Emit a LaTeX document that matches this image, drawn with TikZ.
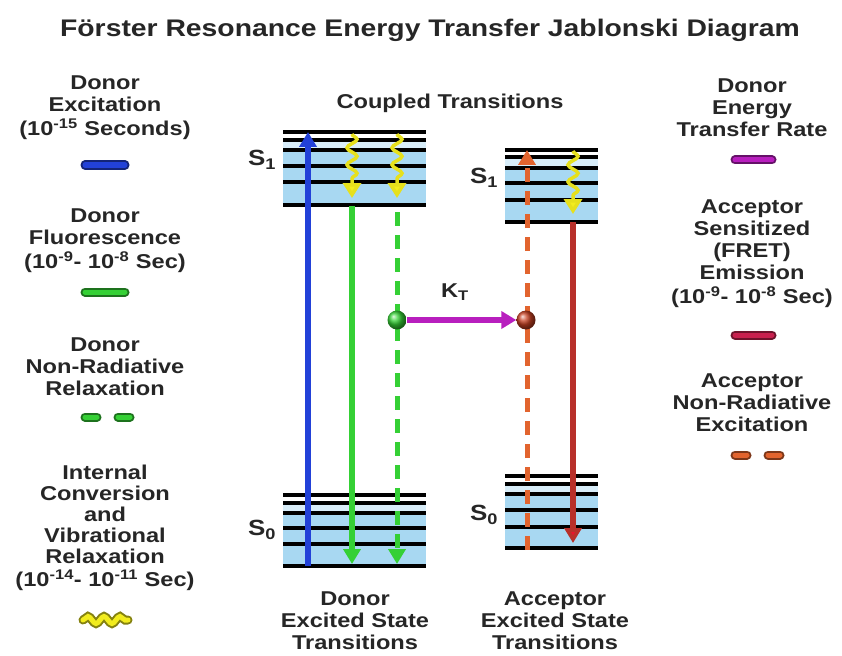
\documentclass[tikz,border=0pt]{standalone}
\usepackage{fontspec}
\setmainfont{Liberation Sans}[FakeStretch=1.18]
\usetikzlibrary{arrows.meta,decorations.pathmorphing}
\definecolor{txt}{HTML}{262626}
\definecolor{lvlblue}{HTML}{A8D8F2}
\definecolor{dblue}{HTML}{2241D8}
\definecolor{dgreen}{HTML}{35D035}
\definecolor{wavy}{HTML}{F2EC1E}
\definecolor{xfer}{HTML}{B81FBE}
\definecolor{aemit}{HTML}{B8302A}
\definecolor{ahead}{HTML}{E8142C}
\definecolor{anr}{HTML}{E2642E}
\definecolor{fretpill}{HTML}{C8204E}
\tikzset{
  lbl/.style={align=center, text=txt, font=\bfseries\fontsize{20}{22}\selectfont},
  pill/.style={draw=#1!55!black, double=#1, double distance=5pt, line width=2pt, line cap=round},
  level/.style={line width=4pt, black},
  arr/.style={line width=6pt, draw=#1, -{Triangle[width=17pt,length=15pt,fill=#1]}},
  dasharr/.style={line width=5pt, draw=#1, dash pattern=on 14pt off 9pt, -{Triangle[width=17pt,length=15pt,fill=#1]}},
  wavearr/.style={line width=3.5pt, draw=wavy!95!black, decorate,
    decoration={snake, amplitude=5pt, segment length=17pt, post length=15pt},
    -{Triangle[width=18pt,length=15pt,fill=wavy]}},
  ball/.style={circle, inner sep=0pt, minimum size=19pt, ball color=#1}
}
\begin{document}
\begin{tikzpicture}[x=1pt,y=-1pt]
\useasboundingbox (0,0) rectangle (842,655);
\node[text=txt, font=\bfseries\fontsize{24}{28}\selectfont] (title) at (430,30) {Förster Resonance Energy Transfer Jablonski Diagram};

\node[lbl] (dexc) at (105,108) {Donor\\Excitation\\[2pt](10\textsuperscript{-15} Seconds)};
\draw[pill=dblue] (85,165) -- (125,165);
\node[lbl] (dflu) at (105,241) {Donor\\Fluorescence\\[2pt](10\textsuperscript{-9}- 10\textsuperscript{-8} Sec)};
\draw[pill=dgreen] (85,292) -- (125,292);
\node[lbl] (dnrr) at (105,367) {Donor\\Non-Radiative\\Relaxation};
\draw[pill=dgreen] (85,417) -- (97,417);
\draw[pill=dgreen] (118,417) -- (130,417);
\node[lbl, font=\bfseries\fontsize{20}{21}\selectfont] (icvr) at (105,528) {Internal\\Conversion\\and\\Vibrational\\Relaxation\\[2pt](10\textsuperscript{-14}- 10\textsuperscript{-11} Sec)};
\draw[pill=wavy, decorate, decoration={snake, amplitude=3.5pt, segment length=16pt}] (83,620) -- (128,620);

\node[lbl] (detr) at (752,108) {Donor\\Energy\\Transfer Rate};
\draw[pill=xfer] (735,160) -- (772,160);
\node[lbl] (asfe) at (752,254) {Acceptor\\Sensitized\\(FRET)\\Emission\\[2pt](10\textsuperscript{-9}- 10\textsuperscript{-8} Sec)};
\draw[pill=fretpill] (735,335) -- (772,335);
\node[lbl] (anre) at (752,403) {Acceptor\\Non-Radiative\\Excitation};
\draw[pill=anr] (735,455) -- (747,455);
\draw[pill=anr] (768,455) -- (780,455);

\node[lbl] (coupled) at (450,103) {Coupled Transitions};

\fill[lvlblue!45] (283,140) rectangle (426,150);
\fill[lvlblue] (283,150) rectangle (426,205);
\fill[lvlblue!45] (283,503) rectangle (426,513);
\fill[lvlblue] (283,513) rectangle (426,566);
\fill[lvlblue!45] (505,157) rectangle (598,168);
\fill[lvlblue] (505,168) rectangle (598,222);
\fill[lvlblue!45] (505,484) rectangle (598,494);
\fill[lvlblue] (505,494) rectangle (598,548);
\foreach \y in {132,140,150,166,182,205,495,503,513,528,544,566}
  \draw[level] (283,\y) -- (426,\y);
\foreach \y in {150,157,168,183,200,222,476,484,494,510,527,548}
  \draw[level] (505,\y) -- (598,\y);

\node[lbl, font=\bfseries\fontsize{22}{23}\selectfont] (ds1) at (262,160) {S\textsubscript{1}};
\node[lbl, font=\bfseries\fontsize{22}{23}\selectfont] (ds0) at (262,530) {S\textsubscript{0}};
\node[lbl, font=\bfseries\fontsize{22}{23}\selectfont] (as1) at (484,178) {S\textsubscript{1}};
\node[lbl, font=\bfseries\fontsize{22}{23}\selectfont] (as0) at (484,515) {S\textsubscript{0}};

\coordinate (dexbot) at (308,566);
\coordinate (dextop) at (308,132);
\coordinate (dw1top) at (352,134);
\coordinate (dw1bot) at (352,198);
\coordinate (flutop) at (352,206);
\coordinate (flubot) at (352,564);
\coordinate (dw2top) at (397,134);
\coordinate (dw2bot) at (397,198);
\coordinate (nrtop) at (397,212);
\coordinate (nrbot) at (397,564);
\coordinate (anrbot) at (527,550);
\coordinate (anrtop) at (527,150);
\coordinate (awtop) at (573,151);
\coordinate (awbot) at (573,214);
\coordinate (emtop) at (573,222);
\coordinate (embot) at (573,543);

\draw[arr=dblue] (dexbot) -- (dextop);
\draw[wavearr] (dw1top) -- (dw1bot);
\draw[arr=dgreen] (flutop) -- (flubot);
\draw[wavearr] (dw2top) -- (dw2bot);
\draw[dasharr=dgreen] (nrtop) -- (nrbot);
\draw[dasharr=anr] (anrbot) -- (anrtop);
\draw[wavearr] (awtop) -- (awbot);
\draw[line width=6pt, draw=aemit, -{Triangle[width=17pt,length=15pt,fill=ahead]}] (emtop) -- (embot);

\node[ball=dgreen] (dball) at (397,320) {};
\node[ball=aemit!80!orange] (aball) at (526,320) {};
\draw[line width=6pt, draw=xfer, -{Triangle[width=17pt,length=15pt,fill=xfer]}] (dball) -- (aball);
\node[lbl] (kt) at (455,292) {K\textsubscript{T}};

\node[lbl] (dtrans) at (355,621) {Donor\\Excited State\\Transitions};
\node[lbl] (atrans) at (555,621) {Acceptor\\Excited State\\Transitions};
\end{tikzpicture}
\end{document}
